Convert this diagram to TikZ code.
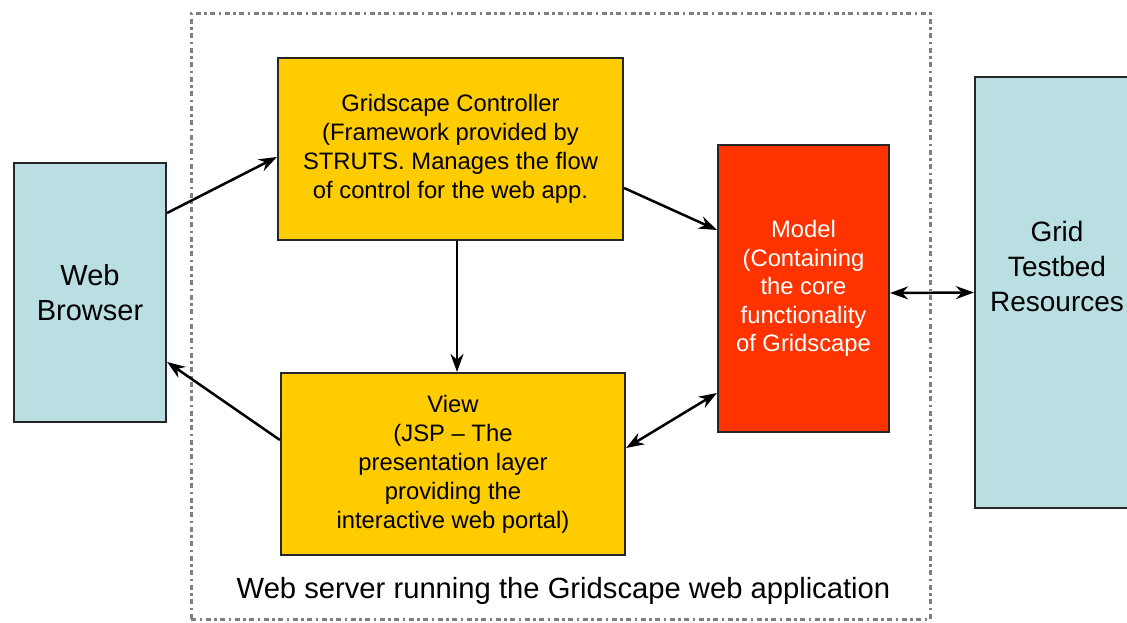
\documentclass[tikz,border=0pt]{standalone}
\usepackage{fontspec}
\setmainfont{Liberation Sans}
\usetikzlibrary{arrows.meta}
\definecolor{boxblue}{HTML}{BADFE3}
\definecolor{boxgold}{HTML}{FFCC00}
\definecolor{boxred}{HTML}{FF3300}
\definecolor{dashgray}{HTML}{7F7F7F}
\tikzset{
  box/.style={draw=black!85, line width=2.2pt, rectangle, inner sep=0pt, align=center},
  bluebox/.style={box, fill=boxblue, font=\fontsize{29}{35}\selectfont},
  goldbox/.style={box, fill=boxgold, font=\fontsize{23.8}{29}\selectfont},
  redbox/.style={box, fill=boxred, text=white, font=\fontsize{23.8}{28.5}\selectfont},
  conn/.style={line width=2.5pt, -{Stealth[length=18pt,width=13pt]}},
  bconn/.style={line width=2.5pt, {Stealth[length=18pt,width=13pt]}-{Stealth[length=18pt,width=13pt]}},
  serverbox/.style={draw=dashgray, line width=3pt, dash pattern=on 5pt off 3.5pt on 2.5pt off 3.5pt}
}
\begin{document}
\begin{tikzpicture}[x=1pt,y=-1pt]
\useasboundingbox (0,0) rectangle (1127,623);
\fill[white] (0,0) rectangle (1127,623);
% web server region
\node[serverbox, minimum width=739pt, minimum height=605pt, inner sep=0pt] (server) at (560.5,316.5) {};
\node[font=\fontsize{29.2}{35}\selectfont, inner sep=0pt] (serverlabel) at (563.5,591) {Web server running the Gridscape web application};
% nodes
\node[bluebox, minimum width=152pt, minimum height=259pt] (browser) at (90,292.5) {Web\\Browser};
\node[goldbox, minimum width=345pt, minimum height=182pt] (ctrl) at (450.5,149) {Gridscape Controller\\(Framework provided by\\STRUTS. Manages the flow\\of control for the web app.};
\node[goldbox, minimum width=344pt, minimum height=182pt] (view) at (453,464) {View\\(JSP -- The\\presentation layer\\providing the\\interactive web portal)};
\node[redbox, minimum width=171pt, minimum height=287pt] (model) at (803.5,288.5) {Model\\(Containing\\the core\\functionality\\of Gridscape};
\node[box, fill=boxblue, minimum width=164pt, minimum height=431pt,
  label={[font=\fontsize{28}{35}\selectfont, align=center, yshift=26pt]center:Grid\\Testbed\\Resources}] (grid) at (1057,292.5) {};
% connectors
\draw[conn] ([yshift=79.5pt]browser.east) -- ([yshift=-8pt]ctrl.west);
\draw[conn] ([yshift=-39pt]ctrl.east) -- ([yshift=58.5pt]model.west);
\draw[conn] ([xshift=6.5pt]ctrl.south) -- ([xshift=4pt]view.north);
\draw[conn] ([yshift=24pt]view.west) -- ([yshift=-69.5pt]browser.east);
\draw[bconn] ([yshift=16pt]view.east) -- ([yshift=-104.5pt]model.west);
\draw[bconn] ([yshift=-4.5pt]model.east) -- (grid.west);
\end{tikzpicture}
\end{document}
